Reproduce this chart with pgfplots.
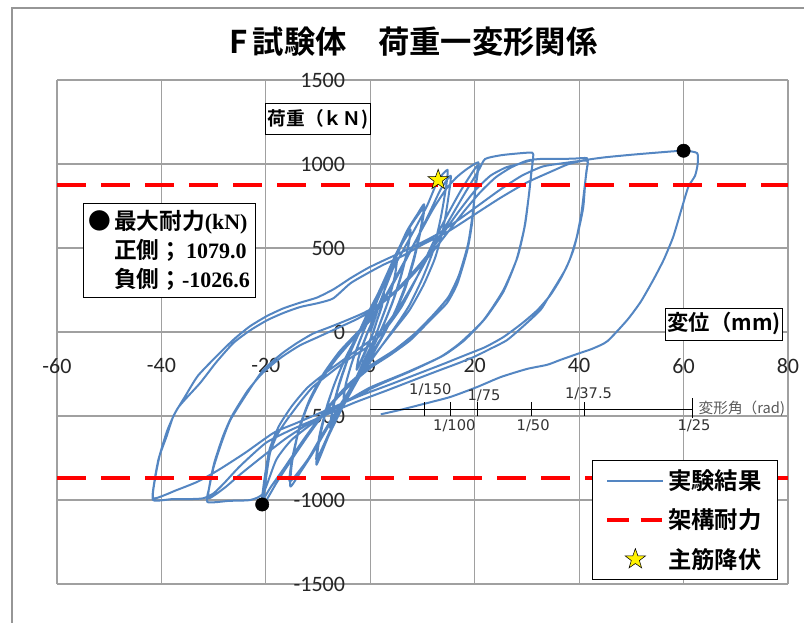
\documentclass[border=0pt]{standalone}
\usepackage{fontspec}
\usepackage{pgfplots}
\pgfplotsset{compat=1.18}
\setmainfont{Carlito}
\newfontfamily\jpfont{Noto Sans CJK JP}
\newfontfamily\jpbold{Noto Sans CJK JP Bold}
\newfontfamily\numfont{Liberation Serif}
\newfontfamily\anglefont{DejaVu Sans}

\definecolor{testblue}{RGB}{84,134,194}
\definecolor{gridgray}{RGB}{160,160,160}
\definecolor{framegray}{RGB}{150,150,150}

% filled five-pointed star used for the yield point
\pgfdeclareplotmark{fstar}{%
  \pgfpathmoveto{\pgfpointpolar{90}{\pgfplotmarksize}}%
  \pgfpathlineto{\pgfpointpolar{126}{0.4\pgfplotmarksize}}%
  \pgfpathlineto{\pgfpointpolar{162}{\pgfplotmarksize}}%
  \pgfpathlineto{\pgfpointpolar{198}{0.4\pgfplotmarksize}}%
  \pgfpathlineto{\pgfpointpolar{234}{\pgfplotmarksize}}%
  \pgfpathlineto{\pgfpointpolar{270}{0.4\pgfplotmarksize}}%
  \pgfpathlineto{\pgfpointpolar{306}{\pgfplotmarksize}}%
  \pgfpathlineto{\pgfpointpolar{342}{0.4\pgfplotmarksize}}%
  \pgfpathlineto{\pgfpointpolar{18}{\pgfplotmarksize}}%
  \pgfpathlineto{\pgfpointpolar{54}{0.4\pgfplotmarksize}}%
  \pgfpathclose
  \pgfusepathqfillstroke
}

\pgfplotsset{
  lineleg/.style={legend image code/.code={\draw[##1] (0pt,0pt) -- (42pt,0pt);}},
  dashleg/.style={legend image code/.code={\draw[##1, dash pattern=on 16pt off 9pt] (0pt,0pt) -- (42pt,0pt);}},
  starleg/.style={legend image code/.code={\draw[##1] plot coordinates {(21pt,0pt)};}},
}

\begin{document}
\begin{tikzpicture}[x=1pt,y=1pt]
\path[use as bounding box] (0,0) rectangle (603,466.5);
\draw[framegray, line width=0.8pt] (9,-5) -- (9,460.5) -- (610,460.5);
\node[font=\jpbold\fontsize{23.5}{25}\selectfont] at (310,435) {F\,試験体　荷重一変形関係};

\begin{axis}[
  at={(42.75pt,28.5pt)}, anchor=south west,
  scale only axis, width=548.25pt, height=378pt,
  xmin=-60, xmax=80, ymin=-1500, ymax=1500,
  axis lines=middle, axis line style={gridgray, line width=0.8pt, -},
  xtick={-60,-40,...,80}, ytick={-1500,-1000,...,1500},
  grid=major, major grid style={gridgray, line width=0.8pt},
  major tick length=0pt,
  hide obscured x ticks=false, hide obscured y ticks=false,
  scaled ticks=false,
  /pgf/number format/1000 sep={},
  /pgf/number format/assume math mode=true,
  tick label style={font=\fontsize{16.5}{18}\selectfont, text=black!85},
  xticklabel style={anchor=north, inner sep=0pt, yshift=-19.5pt},
  yticklabel style={anchor=east, inner sep=0pt, xshift=-18.75pt},
  legend cell align=left,
  legend style={at={(0.986,0.008)}, anchor=south east, draw=black,
    line width=0.6pt, fill=white, font=\jpbold\fontsize{17.5}{19}\selectfont,
    inner xsep=10pt, inner ysep=5pt, row sep=9pt},
]

% measured load-displacement record
\addplot[testblue, line width=1.5pt, line join=round, smooth, tension=0.35, lineleg] coordinates {
(0,0) (0.8,70) (1.6,150) (2.6,235) (2.3,170) (1.5,90) (0.6,0) (-0.4,-80) (-1.4,-150) (-2.6,-225)
(-2.3,-160) (-1.5,-80) (-0.5,0) (0.6,80) (1.6,160) (2.6,230) (2.2,150) (1.2,60) (0.3,-20) (-0.8,-100)
(-1.8,-170) (-2.6,-220) (-2.2,-150) (-1.2,-60) (-0.2,20)
(1,100) (2.5,230) (4,350) (5.1,430) (4.7,330) (3.6,200) (2.2,80) (0.8,-40) (-0.8,-150) (-2.5,-260)
(-4,-350) (-5.1,-410) (-4.7,-310) (-3.6,-190) (-2.2,-70) (-0.8,40) (0.8,150) (2.5,270) (4,370) (5.1,425)
(4.6,320) (3.4,180) (2,60) (0.5,-60) (-1.2,-170) (-3,-290) (-5.1,-400) (-4.6,-300) (-3.4,-170) (-2,-50) (-0.5,60)
(1,160) (3,330) (5,470) (6.5,560) (7.7,610) (7.2,500) (6,350) (4.5,200) (3,80) (1,-60) (-1.5,-200)
(-4,-350) (-6,-470) (-7.7,-570) (-7.2,-460) (-6,-320) (-4.5,-180) (-3,-60) (-1,80) (1.5,230) (4,400)
(6,520) (7.7,600) (7.1,480) (5.8,320) (4.2,170) (2.5,40) (0.5,-90) (-2,-230) (-4.5,-380) (-6.5,-490)
(-7.7,-560) (-7.1,-440) (-5.8,-290) (-4.2,-150) (-2.5,-30) (-0.5,100)
(2,260) (4.5,430) (7,600) (9,700) (10.3,760) (9.8,640) (8.5,460) (7,300) (5,140) (3,10) (0.5,-130)
(-2.5,-290) (-5.5,-460) (-8,-620) (-10.3,-790) (-9.8,-650) (-8.5,-470) (-7,-320) (-5,-170) (-3,-50)
(-0.5,90) (2.5,280) (5,450) (7.5,620) (10.3,740) (9.7,610) (8.3,420) (6.6,250) (4.5,100) (2,-40)
(-1,-190) (-4,-360) (-7,-540) (-10.3,-760) (-9.7,-610) (-8.2,-430) (-6.5,-280) (-4.5,-140) (-2,0) (0.5,140)
(3,300) (6,470) (9,640) (11,760) (13,905) (14.8,965) (14.5,860) (13.5,680) (12,480) (10,320) (7.5,160)
(5,40) (2,-90) (-1,-220) (-4.5,-380) (-8,-560) (-11,-720) (-13.5,-840) (-15.3,-920) (-15,-780)
(-13.8,-600) (-12,-440) (-9.5,-290) (-6.5,-160) (-3.5,-50) (0,70) (3,210) (6,380) (9,560) (11.5,720)
(13.5,850) (15.4,930) (15,810) (14,620) (12.4,440) (10.2,280) (7.5,130) (4.5,10) (1.5,-110) (-2,-260)
(-5.5,-420) (-9,-600) (-12,-760) (-15.4,-890) (-15,-760) (-13.6,-570) (-11.6,-400) (-9,-250) (-6,-120)
(-3,-20) (0,80)
(3,220) (6,390) (9,560) (12,730) (14.5,850) (16.5,920) (18.5,970) (20.7,1010) (20.5,930) (20.1,845)
(19.5,649) (18.6,488) (16.7,290) (14.7,173) (11.5,71) (7.7,-48) (3.8,-137) (0,-214) (-4,-320) (-8,-450)
(-12,-620) (-15.5,-780) (-18,-900) (-20.5,-1026.6) (-20,-880) (-19.2,-720) (-17.8,-610) (-16,-524)
(-13.5,-420) (-11,-327) (-7.5,-240) (-4.4,-167) (0,-77) (3,20) (6,150) (9,330) (12,530) (15,710)
(17.5,850) (20.5,990) (20.2,880) (19.6,700) (18.7,520) (17,340) (15,210) (12,100) (8.5,-10) (4.5,-110)
(0,-200) (-4.5,-320) (-9,-480) (-13,-650) (-16.5,-810) (-19,-920) (-20.7,-1000) (-20.2,-860)
(-19.3,-700) (-17.5,-560) (-15,-440) (-12,-330) (-8,-230) (-4,-140) (0,-50) (3,40)
(6,170) (9,330) (12,500) (15,660) (18,820) (20.7,960) (22,1030) (25,1052) (28,1062) (31,1068)
(31.2,1040) (30.9,960) (30.7,905) (29.7,649) (28.2,446) (25.5,250) (21.7,71) (17.2,-65) (13.4,-149)
(7,-240) (0,-330) (-5,-420) (-10,-520) (-15,-640) (-18,-760) (-20.5,-960) (-23,-1000) (-27,-1005)
(-31.2,-1012) (-30.8,-920) (-30,-804) (-28.5,-660) (-26.8,-524) (-23.5,-360) (-20.5,-226) (-17,-130)
(-14,-65) (-11,-10) (-7.7,30) (-4.5,70) (-1.3,113) (2,170) (5,250) (8,350) (11,460) (14,590) (17,720)
(20,840) (23,930) (26,980) (28.5,1000) (31,1020) (30.8,940) (30.4,820) (29.5,620) (28,430) (25.5,240)
(22,80) (18,-50) (14,-140) (8,-230) (2,-310) (-4,-400) (-10,-510) (-16,-630) (-21,-750) (-25,-850)
(-28,-930) (-31,-990) (-30.6,-880) (-29.8,-770) (-28.2,-620) (-26.5,-500) (-23.5,-350) (-20.5,-240)
(-17,-150) (-13.5,-80) (-10,-30) (-6.5,20) (-3,70) (0,120)
(3,190) (6,270) (9,370) (12,480) (15,600) (18,720) (21,830) (24,920) (27,980) (30,1020) (32.6,1030)
(36,1030) (39,1032) (41.5,1035) (41.6,1000) (41.2,900) (40.8,745) (40,620) (38.9,488) (37.5,380)
(35.8,290) (34,200) (32.6,131) (29.5,40) (26.2,-48) (23,-100) (19.8,-149) (16.5,-190) (13.4,-226)
(8,-290) (3,-350) (-3,-420) (-9,-500) (-15,-580) (-20,-660) (-25,-800) (-28,-900) (-30,-960)
(-32,-990) (-35,-995) (-38,-995) (-41.6,-1000) (-41.3,-880) (-40.5,-750) (-39,-620) (-37.7,-500)
(-35.4,-380) (-33,-260) (-29,-130) (-26,-40) (-23,35) (-19.8,95) (-16.7,140) (-13.4,175) (-10.2,205)
(-7,255) (-3.8,320) (-0.5,380) (2.5,425) (6,475) (10,535) (13,585) (17,670) (21,760) (25,850) (29,930)
(33,985) (37,1005) (41.5,1020) (41.4,960) (41,850) (40.4,700) (39.5,560) (38.2,430) (36.5,320)
(34.5,220) (32,130) (29,50) (25.5,-30) (22,-90) (18,-140) (14,-190) (9,-250) (4,-310) (-2,-380)
(-8,-460) (-14,-540) (-18.5,-600) (-24,-720) (-29,-820) (-33,-890) (-37,-940) (-41.5,-990)
(-41.2,-870) (-40.3,-730) (-38.8,-580) (-36.8,-450) (-32.6,-304) (-29.5,-180) (-26.2,-65) (-23,10)
(-19.7,71) (-16.5,115) (-13.4,149) (-10,172) (-7.1,200) (-3.8,290) (-0.5,350) (2.5,400) (6,450) (10,520)
(15,600) (20,700) (25,800) (30,890) (35,960) (38,1000) (41.5,1025) (45,1040) (50,1055) (55,1068)
(60,1079) (62.6,1065) (62.7,1000) (62.2,930) (60.9,863) (59.5,720) (58,565) (56.2,430) (54.2,310)
(51.8,180) (49.2,71) (45.4,-55) (42.5,-100) (39.7,-130) (36.5,-165) (33.9,-195) (30,-220) (25,-268)
(20.5,-327) (15.3,-387) (10,-430) (5.7,-464) (2,-490)
};
\addlegendentry{実験結果}

% frame capacity
\addplot[red, line width=3pt, dash pattern=on 22pt off 11pt, dashleg] coordinates {(-60,875) (80,875)};
\addlegendentry{架構耐力}

% main bar yield
\addplot[only marks, mark=fstar, mark size=8pt,
  mark options={fill=yellow, draw=black, line width=0.4pt}, starleg] coordinates {(13.0,905)};
\addlegendentry{主筋降伏}

\addplot[red, line width=3pt, dash pattern=on 22pt off 11pt, forget plot] coordinates {(-60,-870) (80,-870)};

% peak loads
\addplot[only marks, mark=*, mark size=5pt, black, forget plot] coordinates {(60,1079.0) (-20.7,-1026.6)};

% drift angle scale
\draw[black, line width=0.6pt] (axis cs:0,-458) -- (axis cs:61.6,-458);
\draw[black, line width=0.6pt] (axis cs:10.27,-500) -- (axis cs:10.27,-416);
\draw[black, line width=0.6pt] (axis cs:15.4,-500) -- (axis cs:15.4,-416);
\draw[black, line width=0.6pt] (axis cs:20.53,-500) -- (axis cs:20.53,-416);
\draw[black, line width=0.6pt] (axis cs:30.8,-500) -- (axis cs:30.8,-416);
\draw[black, line width=0.6pt] (axis cs:41.07,-500) -- (axis cs:41.07,-416);
\draw[black, line width=0.6pt] (axis cs:61.6,-510) -- (axis cs:61.6,-395);
\node[font=\anglefont\fontsize{11}{12}\selectfont, text=black!80] at (axis cs:11.5,-345) {1/150};
\node[font=\anglefont\fontsize{11}{12}\selectfont, text=black!80] at (axis cs:21.8,-380) {1/75};
\node[font=\anglefont\fontsize{11}{12}\selectfont, text=black!80] at (axis cs:41.8,-370) {1/37.5};
\node[font=\anglefont\fontsize{11}{12}\selectfont, text=black!80] at (axis cs:16.1,-560) {1/100};
\node[font=\anglefont\fontsize{11}{12}\selectfont, text=black!80] at (axis cs:31.2,-555) {1/50};
\node[font=\anglefont\fontsize{11}{12}\selectfont, text=black!80] at (axis cs:62,-555) {1/25};
\node[font=\jpfont\fontsize{11}{12}\selectfont, text=black!65, anchor=west, inner sep=1pt] at (axis cs:62.6,-458) {変形角（rad)};

% axis titles
\node[draw=black, line width=0.6pt, fill=white, inner xsep=1.5pt, inner ysep=4pt, font=\jpbold\fontsize{14}{16}\selectfont]
  at (rel axis cs:0.357,0.9226) {荷重（ｋＮ)};
\node[draw=black, line width=0.6pt, fill=white, inner xsep=1.5pt, inner ysep=3.5pt, font=\jpbold\fontsize{16}{18}\selectfont]
  at (rel axis cs:0.9125,0.516) {変位（mm)};

% maximum strength note
\node[draw=black, line width=0.6pt, fill=white, anchor=north west, inner xsep=4pt, inner ysep=5pt, align=left,
  font=\jpbold\fontsize{17}{22}\selectfont]
  at (rel axis cs:0.0356,0.756)
  {●\hspace{2pt}最大耐力{\numfont\bfseries\fontsize{16.5}{22}\selectfont(kN)}\\
   \phantom{●}\hspace{2pt}正側；\hspace{3pt}{\numfont\bfseries\fontsize{16.5}{22}\selectfont 1079.0}\\
   \phantom{●}\hspace{2pt}負側；{\numfont\bfseries\fontsize{16.5}{22}\selectfont -1026.6}};
\end{axis}
\end{tikzpicture}
\end{document}
